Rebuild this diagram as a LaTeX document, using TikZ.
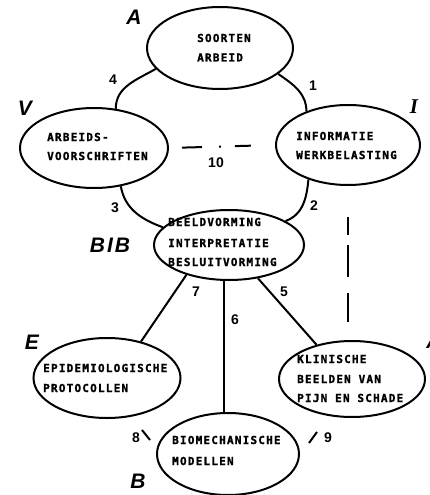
\documentclass[tikz,border=0pt]{standalone}
\usepackage{fontspec}
\usetikzlibrary{shapes.geometric}
\newfontfamily\boxfont{DejaVu Sans Mono}[LetterSpace=11, BoldFeatures={FakeBold=1.5}]
\newfontfamily\numfont{Liberation Sans}
\newfontfamily\tagfont{Liberation Sans}
\newfontfamily\tagserif{Liberation Serif}
\tikzset{
  ell/.style={draw, ellipse, line width=2pt, inner sep=0pt},
  txt/.style={anchor=base west, inner sep=0pt, font=\boxfont\bfseries\fontsize{11}{13}\selectfont},
  num/.style={inner sep=0pt, font=\numfont\bfseries\fontsize{14}{14}\selectfont},
  tag/.style={inner sep=0pt, font=\tagfont\bfseries\itshape\fontsize{21}{21}\selectfont},
  link/.style={line width=2pt}
}
\begin{document}
\begin{tikzpicture}[x=1pt,y=-1pt]
\useasboundingbox (0,0) rectangle (429,495);
% ellipses
\node[ell, minimum width=146pt, minimum height=82pt] (A) at (220,48) {};
\node[ell, minimum width=148pt, minimum height=80pt] (V) at (94,148) {};
\node[ell, minimum width=144pt, minimum height=80pt] (I) at (348,145) {};
\node[ell, minimum width=150pt, minimum height=70pt] (BIB) at (229,245) {};
\node[ell, minimum width=147pt, minimum height=80pt] (E) at (107,378) {};
\node[ell, minimum width=146pt, minimum height=76pt] (K) at (352,379) {};
\node[ell, minimum width=142pt, minimum height=82pt] (B) at (228,454) {};
% texts
\node[txt] (a1) at (197,42) {SOORTEN};
\node[txt] (a2) at (197,61.5) {ARBEID};
\node[txt] (v1) at (47,141) {ARBEIDS-};
\node[txt] (v2) at (47,160) {VOORSCHRIFTEN};
\node[txt] (i1) at (296,140) {INFORMATIE};
\node[txt] (i2) at (296,159) {WERKBELASTING};
\node[txt] (b1) at (168,226) {BEELDVORMING};
\node[txt] (b2) at (168,247) {INTERPRETATIE};
\node[txt] (b3) at (168,266) {BESLUITVORMING};
\node[txt] (e1) at (43,372) {EPIDEMIOLOGISCHE};
\node[txt] (e2) at (43,392) {PROTOCOLLEN};
\node[txt] (k1) at (297,363) {KLINISCHE};
\node[txt] (k2) at (297,383) {BEELDEN VAN};
\node[txt] (k3) at (297,402) {PIJN EN SCHADE};
\node[txt] (m1) at (172,444) {BIOMECHANISCHE};
\node[txt] (m2) at (172,465) {MODELLEN};
% connectors
\draw[link] (A.198) to[out=210,in=90] (V.61);
\draw[link] (A.336) to[out=-35,in=90] (I.141);
\draw[link] (V.305) to[out=-80,in=160] (BIB.165);
\draw[link] (I.221) to[out=-95,in=20] (BIB.23);
\draw[link] (BIB.215) -- (E.47);
\draw[link] ([xshift=-5pt]BIB.south) -- ([xshift=-4pt]B.north);
\draw[link] (BIB.311) -- (K.136);
\draw[link, dash pattern=on 0pt off 13pt on 20pt off 17pt on 2pt off 14pt on 16pt off 40pt] (V.east) -- (I.west);
\draw[link, dash pattern=on 0pt off 31pt on 18pt off 10pt on 32pt off 16pt on 29pt off 40pt] (I.south) -- (I.south |- K.north);
\coordinate (c8a) at (142,430);
\coordinate (c8b) at (150,440);
\coordinate (c9a) at (309,443);
\coordinate (c9b) at (317,432);
\draw[link] (c8a) -- (c8b);
\draw[link] (c9a) -- (c9b);
% numbers
\node[num] (n4) at (113,80) {4};
\node[num] (n1) at (313,86) {1};
\node[num] (n3) at (115,208) {3};
\node[num] (n2) at (314,206) {2};
\node[num] (n10) at (216,163) {10};
\node[num] (n7) at (196,292) {7};
\node[num] (n6) at (235,320) {6};
\node[num] (n5) at (284,292) {5};
\node[num] (n8) at (136,438) {8};
\node[num] (n9) at (328,438) {9};
% letter tags
\node[tag] (tA) at (134,17) {A};
\node[tag] (tV) at (25,108) {V};
\node[tag, font=\tagserif\bfseries\itshape\fontsize{21}{21}\selectfont] (tI) at (414,107) {I};
\node[tag] (tBIB) at (110,245) {B\hspace{2pt}I\hspace{2pt}B};
\node[tag] (tE) at (32,342) {E};
\node[tag] (tB) at (138,481) {B};
\node[tag] (tK) at (434,341) {A};
\end{tikzpicture}
\end{document}
